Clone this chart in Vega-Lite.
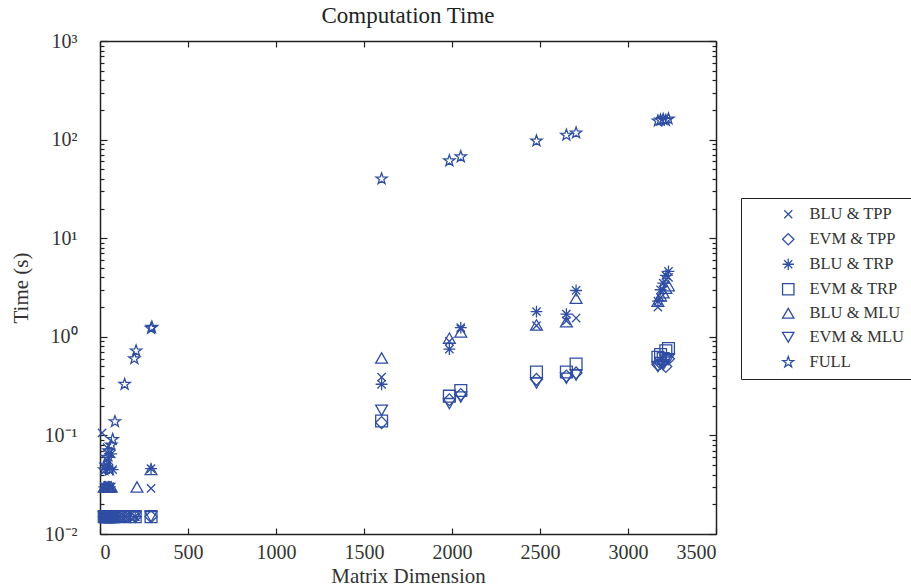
{
  "$schema": "https://vega.github.io/schema/vega-lite/v6.json",
  "width": 616,
  "height": 493,
  "autosize": {"type": "none"},
  "padding": {"left": 100, "top": 41, "right": 195, "bottom": 53},
  "background": "white",
  "title": {"text": "Computation Time", "font": "Liberation Serif", "fontSize": 23, "fontWeight": "normal", "color": "#222", "offset": 3, "anchor": "middle"},
  "config": {
    "view": {"stroke": null},
    "axis": {"grid": false, "domainColor": "#222", "domainWidth": 1.5, "tickColor": "#222", "tickWidth": 1.2, "labelFont": "Liberation Serif", "labelFontSize": 20, "labelColor": "#333", "titleFont": "Liberation Serif", "titleFontSize": 21, "titleFontWeight": "normal", "titleColor": "#333"}
  },
  "data": {"values": [
    {"n": 24, "t": 0.045, "m": "FULL"}, {"n": 32, "t": 0.05, "m": "FULL"}, {"n": 40, "t": 0.06, "m": "FULL"}, {"n": 48, "t": 0.07, "m": "FULL"}, {"n": 56, "t": 0.045, "m": "FULL"}, {"n": 64, "t": 0.08, "m": "FULL"}, {"n": 72, "t": 0.091, "m": "FULL"}, {"n": 85, "t": 0.138, "m": "FULL"}, {"n": 140, "t": 0.33, "m": "FULL"}, {"n": 195, "t": 0.6, "m": "FULL"}, {"n": 205, "t": 0.72, "m": "FULL"}, {"n": 290, "t": 1.22, "m": "FULL"}, {"n": 295, "t": 1.25, "m": "FULL"},
    {"n": 1600, "t": 40, "m": "FULL"}, {"n": 1985, "t": 61, "m": "FULL"}, {"n": 2050, "t": 67, "m": "FULL"}, {"n": 2480, "t": 97, "m": "FULL"}, {"n": 2650, "t": 111, "m": "FULL"}, {"n": 2705, "t": 117, "m": "FULL"}, {"n": 3170, "t": 155, "m": "FULL"}, {"n": 3185, "t": 158, "m": "FULL"}, {"n": 3200, "t": 160, "m": "FULL"}, {"n": 3215, "t": 157, "m": "FULL"}, {"n": 3230, "t": 162, "m": "FULL"},

    {"n": 24, "t": 0.03, "m": "BLU & TRP"}, {"n": 32, "t": 0.045, "m": "BLU & TRP"}, {"n": 40, "t": 0.05, "m": "BLU & TRP"}, {"n": 48, "t": 0.06, "m": "BLU & TRP"}, {"n": 56, "t": 0.03, "m": "BLU & TRP"}, {"n": 64, "t": 0.065, "m": "BLU & TRP"}, {"n": 72, "t": 0.045, "m": "BLU & TRP"}, {"n": 80, "t": 0.015, "m": "BLU & TRP"}, {"n": 140, "t": 0.015, "m": "BLU & TRP"}, {"n": 200, "t": 0.015, "m": "BLU & TRP"}, {"n": 290, "t": 0.046, "m": "BLU & TRP"},
    {"n": 1600, "t": 0.33, "m": "BLU & TRP"}, {"n": 1985, "t": 0.75, "m": "BLU & TRP"}, {"n": 2050, "t": 1.24, "m": "BLU & TRP"}, {"n": 2480, "t": 1.8, "m": "BLU & TRP"}, {"n": 2650, "t": 1.7, "m": "BLU & TRP"}, {"n": 2705, "t": 2.95, "m": "BLU & TRP"}, {"n": 3170, "t": 2.3, "m": "BLU & TRP"}, {"n": 3185, "t": 3.0, "m": "BLU & TRP"}, {"n": 3200, "t": 3.5, "m": "BLU & TRP"}, {"n": 3215, "t": 4.2, "m": "BLU & TRP"}, {"n": 3230, "t": 4.6, "m": "BLU & TRP"},

    {"n": 12, "t": 0.106, "m": "BLU & TPP"}, {"n": 24, "t": 0.03, "m": "BLU & TPP"}, {"n": 32, "t": 0.03, "m": "BLU & TPP"}, {"n": 40, "t": 0.075, "m": "BLU & TPP"}, {"n": 48, "t": 0.045, "m": "BLU & TPP"}, {"n": 56, "t": 0.03, "m": "BLU & TPP"}, {"n": 64, "t": 0.03, "m": "BLU & TPP"}, {"n": 80, "t": 0.015, "m": "BLU & TPP"}, {"n": 140, "t": 0.015, "m": "BLU & TPP"}, {"n": 200, "t": 0.015, "m": "BLU & TPP"}, {"n": 290, "t": 0.029, "m": "BLU & TPP"},
    {"n": 1600, "t": 0.39, "m": "BLU & TPP"}, {"n": 1985, "t": 0.9, "m": "BLU & TPP"}, {"n": 2050, "t": 1.2, "m": "BLU & TPP"}, {"n": 2480, "t": 1.3, "m": "BLU & TPP"}, {"n": 2650, "t": 1.45, "m": "BLU & TPP"}, {"n": 2705, "t": 1.55, "m": "BLU & TPP"}, {"n": 3170, "t": 2.0, "m": "BLU & TPP"}, {"n": 3185, "t": 2.5, "m": "BLU & TPP"}, {"n": 3200, "t": 3.0, "m": "BLU & TPP"}, {"n": 3215, "t": 3.8, "m": "BLU & TPP"}, {"n": 3230, "t": 4.0, "m": "BLU & TPP"},

    {"n": 24, "t": 0.03, "m": "BLU & MLU"}, {"n": 32, "t": 0.03, "m": "BLU & MLU"}, {"n": 40, "t": 0.03, "m": "BLU & MLU"}, {"n": 48, "t": 0.03, "m": "BLU & MLU"}, {"n": 56, "t": 0.03, "m": "BLU & MLU"}, {"n": 64, "t": 0.03, "m": "BLU & MLU"}, {"n": 80, "t": 0.015, "m": "BLU & MLU"}, {"n": 140, "t": 0.015, "m": "BLU & MLU"}, {"n": 210, "t": 0.03, "m": "BLU & MLU"}, {"n": 290, "t": 0.045, "m": "BLU & MLU"},
    {"n": 1600, "t": 0.61, "m": "BLU & MLU"}, {"n": 1985, "t": 0.97, "m": "BLU & MLU"}, {"n": 2050, "t": 1.12, "m": "BLU & MLU"}, {"n": 2480, "t": 1.32, "m": "BLU & MLU"}, {"n": 2650, "t": 1.42, "m": "BLU & MLU"}, {"n": 2705, "t": 2.46, "m": "BLU & MLU"}, {"n": 3170, "t": 2.3, "m": "BLU & MLU"}, {"n": 3185, "t": 2.6, "m": "BLU & MLU"}, {"n": 3200, "t": 2.8, "m": "BLU & MLU"}, {"n": 3215, "t": 3.1, "m": "BLU & MLU"}, {"n": 3230, "t": 3.3, "m": "BLU & MLU"},

    {"n": 24, "t": 0.015, "m": "EVM & TPP"}, {"n": 32, "t": 0.015, "m": "EVM & TPP"}, {"n": 40, "t": 0.015, "m": "EVM & TPP"}, {"n": 48, "t": 0.015, "m": "EVM & TPP"}, {"n": 56, "t": 0.015, "m": "EVM & TPP"}, {"n": 64, "t": 0.015, "m": "EVM & TPP"}, {"n": 72, "t": 0.015, "m": "EVM & TPP"}, {"n": 80, "t": 0.015, "m": "EVM & TPP"}, {"n": 140, "t": 0.015, "m": "EVM & TPP"}, {"n": 200, "t": 0.015, "m": "EVM & TPP"}, {"n": 290, "t": 0.015, "m": "EVM & TPP"},
    {"n": 1600, "t": 0.135, "m": "EVM & TPP"}, {"n": 1985, "t": 0.23, "m": "EVM & TPP"}, {"n": 2050, "t": 0.26, "m": "EVM & TPP"}, {"n": 2480, "t": 0.37, "m": "EVM & TPP"}, {"n": 2650, "t": 0.4, "m": "EVM & TPP"}, {"n": 2705, "t": 0.43, "m": "EVM & TPP"}, {"n": 3170, "t": 0.52, "m": "EVM & TPP"}, {"n": 3185, "t": 0.54, "m": "EVM & TPP"}, {"n": 3200, "t": 0.56, "m": "EVM & TPP"}, {"n": 3215, "t": 0.5, "m": "EVM & TPP"}, {"n": 3230, "t": 0.6, "m": "EVM & TPP"},

    {"n": 24, "t": 0.015, "m": "EVM & TRP"}, {"n": 32, "t": 0.015, "m": "EVM & TRP"}, {"n": 40, "t": 0.015, "m": "EVM & TRP"}, {"n": 48, "t": 0.015, "m": "EVM & TRP"}, {"n": 56, "t": 0.015, "m": "EVM & TRP"}, {"n": 64, "t": 0.015, "m": "EVM & TRP"}, {"n": 72, "t": 0.015, "m": "EVM & TRP"}, {"n": 80, "t": 0.015, "m": "EVM & TRP"}, {"n": 140, "t": 0.015, "m": "EVM & TRP"}, {"n": 200, "t": 0.015, "m": "EVM & TRP"}, {"n": 290, "t": 0.015, "m": "EVM & TRP"},
    {"n": 1600, "t": 0.14, "m": "EVM & TRP"}, {"n": 1985, "t": 0.25, "m": "EVM & TRP"}, {"n": 2050, "t": 0.285, "m": "EVM & TRP"}, {"n": 2480, "t": 0.44, "m": "EVM & TRP"}, {"n": 2650, "t": 0.44, "m": "EVM & TRP"}, {"n": 2705, "t": 0.53, "m": "EVM & TRP"}, {"n": 3170, "t": 0.62, "m": "EVM & TRP"}, {"n": 3185, "t": 0.66, "m": "EVM & TRP"}, {"n": 3200, "t": 0.6, "m": "EVM & TRP"}, {"n": 3215, "t": 0.72, "m": "EVM & TRP"}, {"n": 3230, "t": 0.76, "m": "EVM & TRP"},

    {"n": 24, "t": 0.015, "m": "EVM & MLU"}, {"n": 32, "t": 0.015, "m": "EVM & MLU"}, {"n": 40, "t": 0.015, "m": "EVM & MLU"}, {"n": 48, "t": 0.015, "m": "EVM & MLU"}, {"n": 56, "t": 0.015, "m": "EVM & MLU"}, {"n": 64, "t": 0.015, "m": "EVM & MLU"}, {"n": 72, "t": 0.015, "m": "EVM & MLU"}, {"n": 80, "t": 0.015, "m": "EVM & MLU"}, {"n": 140, "t": 0.015, "m": "EVM & MLU"}, {"n": 200, "t": 0.015, "m": "EVM & MLU"}, {"n": 290, "t": 0.015, "m": "EVM & MLU"},
    {"n": 1600, "t": 0.18, "m": "EVM & MLU"}, {"n": 1985, "t": 0.21, "m": "EVM & MLU"}, {"n": 2050, "t": 0.245, "m": "EVM & MLU"}, {"n": 2480, "t": 0.34, "m": "EVM & MLU"}, {"n": 2650, "t": 0.38, "m": "EVM & MLU"}, {"n": 2705, "t": 0.41, "m": "EVM & MLU"}, {"n": 3170, "t": 0.5, "m": "EVM & MLU"}, {"n": 3185, "t": 0.55, "m": "EVM & MLU"}, {"n": 3200, "t": 0.52, "m": "EVM & MLU"}, {"n": 3215, "t": 0.58, "m": "EVM & MLU"}, {"n": 3230, "t": 0.6, "m": "EVM & MLU"}
  ]},
  "layer": [
    {
      "mark": {"type": "point", "filled": false, "color": "#2f4ea3", "strokeWidth": 1.3, "size": 140, "opacity": 1},
      "encoding": {
        "x": {"field": "n", "type": "quantitative", "title": "Matrix Dimension",
          "scale": {"domain": [0, 3500], "nice": false, "zero": false},
          "axis": {"values": [0, 500, 1000, 1500, 2000, 2500, 3000, 3500], "format": "d", "tickSize": -6, "labelPadding": 14, "titlePadding": 3, "orient": "bottom"}},
        "y": {"field": "t", "type": "quantitative", "title": "Time (s)",
          "scale": {"type": "log", "domain": [0.01, 1000], "nice": false},
          "axis": {"orient": "left",
            "values": [0.01,0.02,0.03,0.04,0.05,0.06,0.07,0.08,0.09,0.1,0.2,0.3,0.4,0.5,0.6,0.7,0.8,0.9,1,2,3,4,5,6,7,8,9,10,20,30,40,50,60,70,80,90,100,200,300,400,500,600,700,800,900,1000],
            "labelExpr": "datum.value==1000?'10³':datum.value==100?'10²':datum.value==10?'10¹':datum.value==1?'10⁰':abs(datum.value-0.1)<1e-9?'10⁻¹':abs(datum.value-0.01)<1e-9?'10⁻²':''",
            "tickSize": {"condition": {"test": "datum.value==1000||datum.value==100||datum.value==10||datum.value==1||abs(datum.value-0.1)<1e-9||abs(datum.value-0.01)<1e-9", "value": -7}, "value": -4},
            "labelPadding": 30, "titlePadding": 13, "labelOverlap": false}},
        "shape": {"field": "m", "type": "nominal", "title": null,
          "scale": {"domain": ["BLU & TPP", "EVM & TPP", "BLU & TRP", "EVM & TRP", "BLU & MLU", "EVM & MLU", "FULL"],
            "range": ["M-0.7,-0.7L0.7,0.7M-0.7,0.7L0.7,-0.7", "diamond", "M-1,0L1,0M0,-1L0,1M-0.7,-0.7L0.7,0.7M-0.7,0.7L0.7,-0.7", "square", "triangle-up", "triangle-down", "M0,-1L0.235,-0.324L0.951,-0.309L0.38,0.124L0.588,0.809L0,0.4L-0.588,0.809L-0.38,0.124L-0.951,-0.309L-0.235,-0.324Z"]},
          "legend": {"orient": "none", "legendX": 641, "legendY": 157, "strokeColor": "#222", "fillColor": "white", "padding": 8, "symbolOffset": 31, "labelOffset": 13, "rowPadding": 7, "symbolStrokeColor": "#2f4ea3", "symbolFillColor": "transparent", "symbolStrokeWidth": 1.3, "symbolSize": 130, "labelFont": "Liberation Serif", "labelFontSize": 16.5, "labelColor": "#333"}}
      }
    },
    {
      "mark": {"type": "point", "opacity": 0},
      "encoding": {
        "x": {"field": "n", "type": "quantitative",
          "scale": {"domain": [0, 3500], "nice": false, "zero": false},
          "axis": {"orient": "top", "values": [0, 500, 1000, 1500, 2000, 2500, 3000, 3500], "tickSize": -6, "labels": false, "title": null}},
        "y": {"field": "t", "type": "quantitative",
          "scale": {"type": "log", "domain": [0.01, 1000], "nice": false},
          "axis": {"orient": "right", "title": null, "labels": false,
            "values": [0.01,0.02,0.03,0.04,0.05,0.06,0.07,0.08,0.09,0.1,0.2,0.3,0.4,0.5,0.6,0.7,0.8,0.9,1,2,3,4,5,6,7,8,9,10,20,30,40,50,60,70,80,90,100,200,300,400,500,600,700,800,900,1000],
            "tickSize": {"condition": {"test": "datum.value==1000||datum.value==100||datum.value==10||datum.value==1||abs(datum.value-0.1)<1e-9||abs(datum.value-0.01)<1e-9", "value": -7}, "value": -4}}}
      }
    }
  ],
  "resolve": {"scale": {"x": "independent", "y": "independent"}, "axis": {"x": "independent", "y": "independent"}}
}
